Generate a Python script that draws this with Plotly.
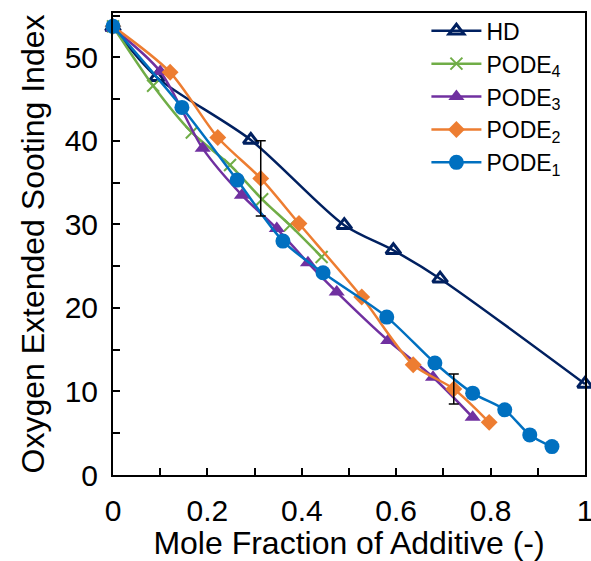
import plotly.graph_objects as go

# Data
hd_x = [0.0, 0.093, 0.292, 0.49, 0.594, 0.693, 1.0]
hd_y = [53.6, 47.6, 40.1, 29.9, 26.9, 23.5, 10.9]

p4_x = [0.0, 0.085, 0.167, 0.248, 0.316, 0.375, 0.442]
p4_y = [53.7, 46.6, 41.0, 37.1, 33.0, 29.9, 26.1]

p3_x = [0.0, 0.1, 0.19, 0.273, 0.347, 0.413, 0.474, 0.583, 0.678, 0.762]
p3_y = [53.5, 48.3, 39.1, 33.5, 29.5, 25.4, 21.9, 16.1, 11.7, 6.9]

p2_x = [0.0, 0.121, 0.222, 0.313, 0.394, 0.527, 0.636, 0.722, 0.797]
p2_y = [53.7, 48.2, 40.4, 35.5, 30.1, 21.3, 13.2, 10.3, 6.3]

p1_x = [0.0, 0.146, 0.263, 0.36, 0.445, 0.58, 0.682, 0.762, 0.83, 0.883, 0.93]
p1_y = [53.7, 44.0, 35.3, 28.0, 24.2, 18.9, 13.4, 9.8, 7.8, 4.8, 3.4]

err_x = [0.313, 0.722]
err_y = [35.5, 10.3]
err_v = [4.5, 1.8]

x_tickvals = [0, 0.2, 0.4, 0.6, 0.8, 1.0]
x_ticktext = ["0", "0.2", "0.4", "0.6", "0.8", "1"]
y_tickvals = [0, 10, 20, 30, 40, 50]

FONT = "Liberation Sans, Arial, sans-serif"

fig = go.Figure()

series = [
    ("HD", hd_x, hd_y, "#002060", dict(symbol="triangle-up-open", size=13, line=dict(width=3, color="#002060"))),
    ("PODE<sub>4</sub>", p4_x, p4_y, "#70AD47", dict(symbol="x-thin-open", size=12, line=dict(width=2, color="#70AD47"))),
    ("PODE<sub>3</sub>", p3_x, p3_y, "#7030A0", dict(symbol="triangle-up", size=14)),
    ("PODE<sub>2</sub>", p2_x, p2_y, "#ED7D31", dict(symbol="diamond", size=13)),
    ("PODE<sub>1</sub>", p1_x, p1_y, "#0070C0", dict(symbol="circle", size=15)),
]

for name, xs, ys, col, mk in series:
    mk = dict(mk)
    mk["color"] = col
    fig.add_trace(go.Scatter(
        x=xs, y=ys, name=name, mode="lines+markers",
        line=dict(color=col, width=2.5, shape="spline", smoothing=0.8),
        marker=mk, cliponaxis=False,
    ))

fig.add_trace(go.Scatter(
    x=err_x, y=err_y, mode="markers", showlegend=False,
    marker=dict(size=1, opacity=0),
    error_y=dict(type="data", array=err_v, color="black", thickness=1.5, width=5),
    hoverinfo="skip",
))

fig.update_layout(
    width=591, height=561,
    margin=dict(l=113, r=6, t=13, b=86),
    paper_bgcolor="white", plot_bgcolor="white",
    font=dict(family=FONT, size=30, color="black"),
    showlegend=True,
    legend=dict(x=0.664, y=1.008, xanchor="left", yanchor="top",
                bgcolor="rgba(0,0,0,0)", font=dict(size=23),
                tracegroupgap=0, itemwidth=50),
)

fig.update_xaxes(
    range=[0, 1], showgrid=False, zeroline=False, automargin=False,
    showline=True, linecolor="black", linewidth=2, mirror=True,
    ticks="inside", ticklen=7, tickwidth=1.5, tickcolor="black",
    tickvals=x_tickvals, ticktext=x_ticktext, ticklabeloverflow="allow",
    minor=dict(dtick=0.1, ticks="inside", ticklen=7, tickwidth=1.5, tickcolor="black"),
    tickfont=dict(size=30), ticklabelstandoff=8,
    title=dict(text="Mole Fraction of Additive (-)", font=dict(size=32), standoff=0),
)
fig.update_yaxes(
    range=[0, 55.3], showgrid=False, zeroline=False, automargin=False,
    showline=True, linecolor="black", linewidth=2, mirror=True,
    ticks="inside", ticklen=7, tickwidth=1.5, tickcolor="black",
    tickvals=y_tickvals, ticklabeloverflow="allow",
    minor=dict(dtick=5, ticks="inside", ticklen=7, tickwidth=1.5, tickcolor="black"),
    tickfont=dict(size=30), ticklabelstandoff=7,
    title=dict(text="Oxygen Extended Sooting Index", font=dict(size=32), standoff=10),
)

fig.write_html("out.html")
